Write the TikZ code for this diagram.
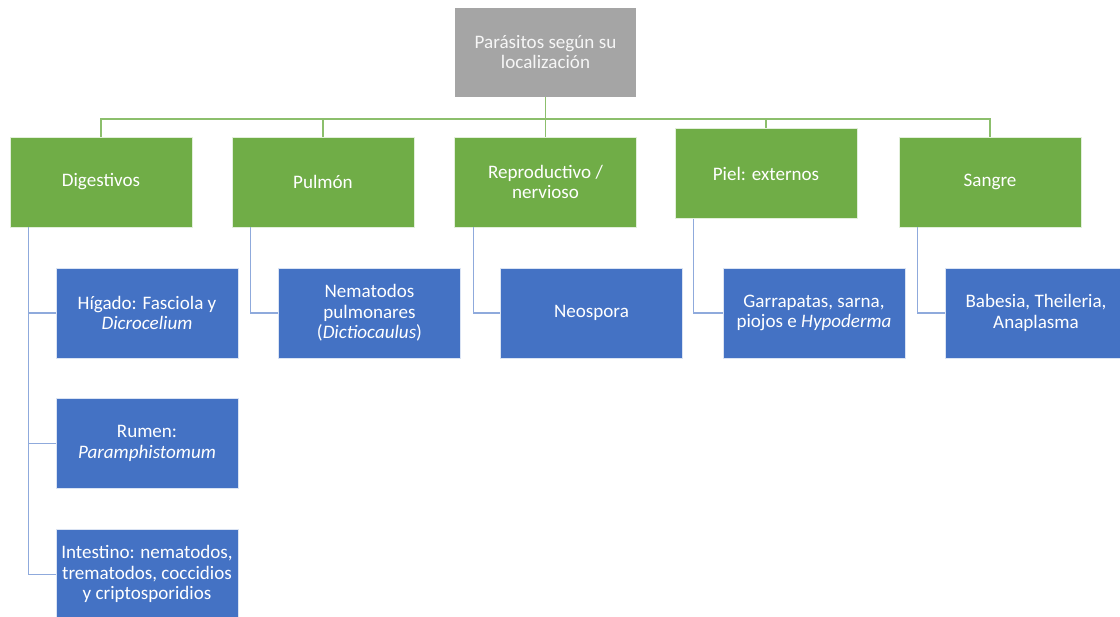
\documentclass[tikz,border=0pt]{standalone}
\usepackage{fontspec}
\setmainfont{Carlito}
\usetikzlibrary{positioning}
\definecolor{rootgray}{HTML}{A5A5A5}
\definecolor{catgreen}{HTML}{70AD47}
\definecolor{itemblue}{HTML}{4472C4}
\definecolor{blueline}{HTML}{8FAADC}
\definecolor{greenline}{HTML}{8CBF6C}
\tikzstyle{root} = [rectangle,
minimum width=136.5pt,
minimum height=67.5pt,
text centered,
align=center,
draw=white,
fill=rootgray,
text=white!90!rootgray]
\tikzstyle{category} = [rectangle,
minimum width=136.5pt,
minimum height=67.5pt,
text centered,
align=center,
draw=white!80!catgreen,
fill=catgreen,
text=white]
\tikzstyle{item} = [rectangle,
minimum width=136.5pt,
minimum height=67.5pt,
text centered,
align=center,
draw=white!80!itemblue,
fill=itemblue,
text=white]
\tikzstyle{gline} = [draw=greenline, line width=0.9pt]
\tikzstyle{bline} = [draw=blueline, line width=0.9pt]

\begin{document}
\begin{tikzpicture}[x=0.75pt, y=-0.75pt, node distance=98pt,
  font=\fontsize{14.3}{15.4}\selectfont]
\useasboundingbox (0,0) rectangle (1120,617);
			\node (root) [root] at (545.5,52) {Parásitos según su\\localización};
			\node (dig) [category] at (101,182) {Digestivos};
			\node (pul) [category] at (323,182) {Pulmón};
			\node (rep) [category] at (545.5,182) {Reproductivo /\\nervioso};
			\node (piel) [category] at (766,173.5) {Piel: externos};
			\node (sang) [category] at (990,182) {Sangre};

			\node (hig) [item] at (147,313) {Hígado: Fasciola y\\\textit{Dicrocelium}};
			\node (rum) [item, below of=hig] {Rumen:\\\textit{Paramphistomum}};
			\node (intes) [item, below of=rum] {Intestino: nematodos,\\trematodos, coccidios\\y criptosporidios};
			\node (nem) [item] at (369.5,313) {Nematodos\\pulmonares\\(\textit{Dictiocaulus})};
			\node (neo) [item] at (591.5,313) {Neospora};
			\node (garr) [item] at (814,313) {Garrapatas, sarna,\\piojos e \textit{Hypoderma}};
			\node (bab) [item] at (1036,313) {Babesia, Theileria,\\Anaplasma};

			\coordinate (bus) at (545.5,119);
			\foreach \cat in {dig,pul,rep,piel,sang}
				\draw[gline] (root.south) -- (root.south |- bus) -| (\cat.north);

			\draw[bline] (dig.south west) ++(19,0) |- (hig.west)
							(dig.south west) ++(19,0) |- (rum.west)
							(dig.south west) ++(19,0) |- (intes.west);
			\draw[bline] (pul.south west) ++(19,0) |- (nem.west);
			\draw[bline] (rep.south west) ++(19,0) |- (neo.west);
			\draw[bline] (piel.south west) ++(19,0) |- (garr.west);
			\draw[bline] (sang.south west) ++(19,0) |- (bab.west);
		\end{tikzpicture}
\end{document}
